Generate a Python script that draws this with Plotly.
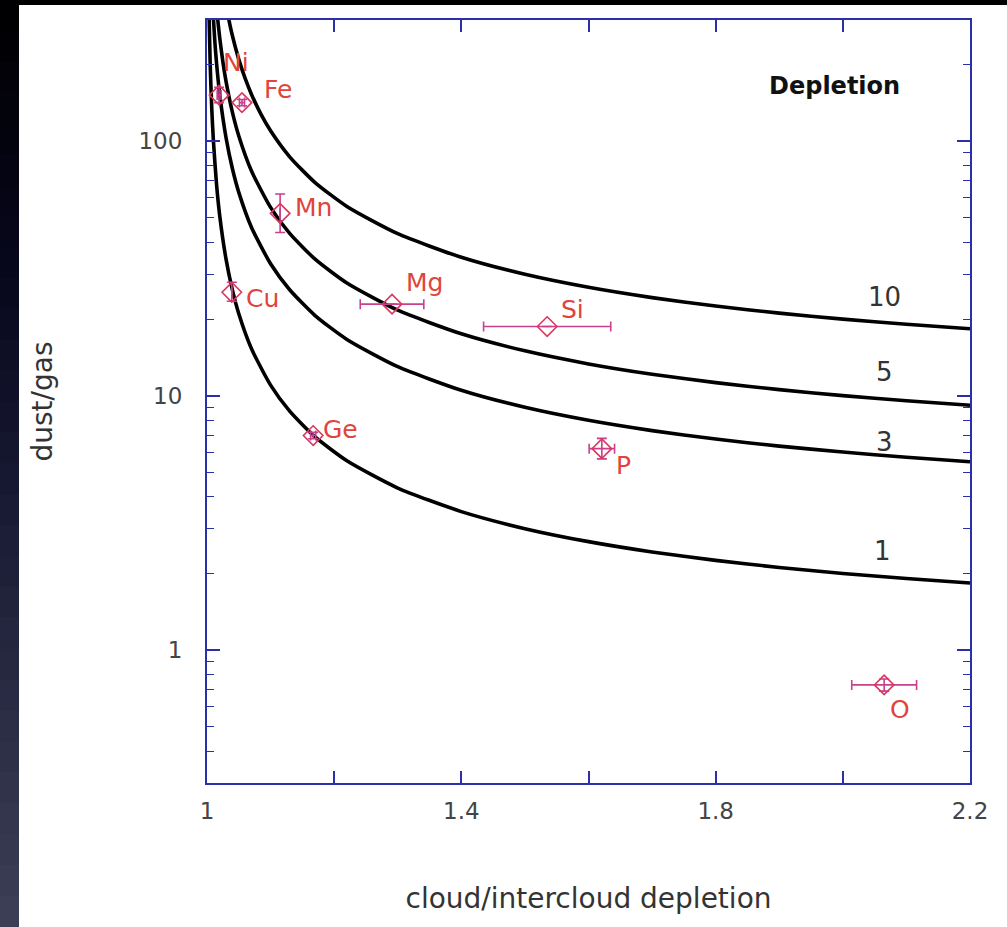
import math
import plotly.graph_objects as go

# ---- model curves: dust/gas ratio against cloud/intercloud depletion ----
depletion_levels = [1, 3, 5, 10]

curve1_x = [1.003, 1.005, 1.0075, 1.01, 1.015, 1.02, 1.03, 1.04, 1.05, 1.07, 1.1, 1.13,
            1.17, 1.22, 1.3, 1.4, 1.5, 1.6, 1.7, 1.8, 1.9, 2.0, 2.1, 2.2]
curve1_y = [334.3, 201.0, 134.3, 101.0, 67.67, 51.0, 34.33, 26.0, 21.0, 15.29, 11.0, 8.692,
            6.882, 5.545, 4.333, 3.5, 3.0, 2.667, 2.429, 2.25, 2.111, 2.0, 1.909, 1.833]

curve3_x = [1.009, 1.0125, 1.015, 1.02, 1.03, 1.04, 1.05, 1.07, 1.1, 1.13, 1.17, 1.22,
            1.3, 1.4, 1.5, 1.6, 1.7, 1.8, 1.9, 2.0, 2.1, 2.2]
curve3_y = [336.3, 243.0, 203.0, 153.0, 103.0, 78.0, 63.0, 45.86, 33.0, 26.08, 20.65, 16.64,
            13.0, 10.5, 9.0, 8.0, 7.286, 6.75, 6.333, 6.0, 5.727, 5.5]

curve5_x = [1.015, 1.0175, 1.02, 1.025, 1.03, 1.04, 1.05, 1.07, 1.1, 1.13, 1.17, 1.22,
            1.3, 1.4, 1.5, 1.6, 1.7, 1.8, 1.9, 2.0, 2.1, 2.2]
curve5_y = [338.3, 290.7, 255.0, 205.0, 171.7, 130.0, 105.0, 76.43, 55.0, 43.46, 34.41, 27.73,
            21.67, 17.5, 15.0, 13.33, 12.14, 11.25, 10.56, 10.0, 9.545, 9.167]

curve10_x = [1.03, 1.035, 1.04, 1.05, 1.06, 1.07, 1.085, 1.1, 1.13, 1.17, 1.22, 1.3,
             1.4, 1.5, 1.6, 1.7, 1.8, 1.9, 2.0, 2.1, 2.2]
curve10_y = [343.3, 295.7, 260.0, 210.0, 176.7, 152.9, 127.6, 110.0, 86.92, 68.82, 55.45, 43.33,
             35.0, 30.0, 26.67, 24.29, 22.5, 21.11, 20.0, 19.09, 18.33]

# where each curve's depletion number is printed
curve_label_x = [2.063, 2.066, 2.066, 2.066]
curve_label_y = [2.46, 6.59, 12.4, 24.4]

# ---- measured elements ----
elements = ["Ni", "Fe", "Mn", "Cu", "Mg", "Ge", "Si", "P", "O"]
cloud_ratio = [1.019, 1.055, 1.115, 1.039, 1.291, 1.167, 1.535, 1.621, 2.065]
cloud_ratio_err = [0.003, 0.004, 0.0, 0.0, 0.05, 0.004, 0.1, 0.02, 0.051]
dust_gas = [152.0, 142.0, 52.1, 25.5, 22.9, 6.97, 18.7, 6.19, 0.729]
dust_gas_err_hi = [11.0, 4.0, 10.0, 2.4, 0.0, 0.2, 0.0, 0.6, 0.04]
dust_gas_err_lo = [10.0, 4.0, 8.3, 2.0, 0.0, 0.2, 0.0, 0.55, 0.04]

# label offsets from each marker, in pixels (right, up)
label_dx = [17, 36, 33, 31, 32, 27, 25, 22, 16]
label_dy = [33, 13, 6, -6, 22, 6, 17, -17, -25]

AXIS_BLUE = "#2c30a8"
LABEL_RED = "#e0443c"
MARK_RED = "#d8385e"
BAR_MAGENTA = "#c8408e"
FONT = "DejaVu Sans"

fig = go.Figure()

curves = [(curve1_x, curve1_y), (curve3_x, curve3_y), (curve5_x, curve5_y), (curve10_x, curve10_y)]
for (cx, cy), level in zip(curves, depletion_levels):
    fig.add_trace(go.Scatter(
        x=cx, y=cy, mode="lines", name=f"Depletion {level}",
        line=dict(color="black", width=3.6, shape="spline", smoothing=0.6),
        hoverinfo="skip", showlegend=False,
    ))

fig.add_trace(go.Scatter(
    x=cloud_ratio, y=dust_gas, mode="markers", text=elements, showlegend=False,
    marker=dict(symbol="diamond-open", size=15, color=MARK_RED, line=dict(width=1.6, color=MARK_RED)),
    error_x=dict(type="data", array=cloud_ratio_err, color=BAR_MAGENTA, thickness=1.6, width=5),
    error_y=dict(type="data", array=dust_gas_err_hi, arrayminus=dust_gas_err_lo,
                 color=BAR_MAGENTA, thickness=1.6, width=5),
))

for name, xv, yv, dx, dy in zip(elements, cloud_ratio, dust_gas, label_dx, label_dy):
    fig.add_annotation(x=xv, y=math.log10(yv), xref="x", yref="y", text=name,
                       showarrow=False, xshift=dx, yshift=dy,
                       xanchor="center", yanchor="middle",
                       font=dict(family=FONT, size=25, color=LABEL_RED))

for level, lx, ly in zip(depletion_levels, curve_label_x, curve_label_y):
    fig.add_annotation(x=lx, y=math.log10(ly), xref="x", yref="y", text=str(level),
                       showarrow=False, xanchor="center", yanchor="middle",
                       font=dict(family=FONT, size=26, color="#333333"))

fig.add_annotation(x=0.823, y=0.9135, xref="paper", yref="paper", text="<b>Depletion</b>",
                   showarrow=False, xanchor="center", yanchor="middle",
                   font=dict(family=FONT, size=24, color="#111111"))

# dark slide backdrop around the white panel
W, H = 1007, 927
L, R, T, B = 207, 37, 20, 144
pw, ph = W - L - R, H - T - B


def px_x(p):
    return (p - L) / pw


def px_y(p):
    return (H - B - p) / ph


stops = [(0, (0, 0, 0)), (250, (6, 6, 26)), (500, (24, 26, 51)), (927, (60, 63, 85))]
nb = 30
for i in range(nb):
    y0p = H * i / nb
    y1p = H * (i + 1) / nb
    ym = (y0p + y1p) / 2
    for (a, ca), (b, cb) in zip(stops[:-1], stops[1:]):
        if a <= ym <= b:
            t = (ym - a) / (b - a)
            col = tuple(int(round(ca[k] + (cb[k] - ca[k]) * t)) for k in range(3))
            break
    fig.add_shape(type="rect", xref="paper", yref="paper",
                  x0=px_x(-2), x1=px_x(19), y0=px_y(y1p + 0.5), y1=px_y(y0p - 0.5),
                  fillcolor="rgb(%d,%d,%d)" % col, line=dict(width=0), layer="below")
fig.add_shape(type="rect", xref="paper", yref="paper",
              x0=px_x(-2), x1=px_x(W + 2), y0=px_y(5), y1=px_y(-2),
              fillcolor="black", line=dict(width=0), layer="below")

fig.update_layout(
    width=W, height=H,
    margin=dict(l=L, r=R, t=T, b=B, autoexpand=False),
    paper_bgcolor="white", plot_bgcolor="white",
    font=dict(family=FONT, color="#444444"),
    xaxis=dict(
        range=[1, 2.2], showgrid=False, zeroline=False,
        showline=True, linecolor=AXIS_BLUE, linewidth=2, mirror="ticks",
        ticks="inside", ticklen=12, tickwidth=1.6, tickcolor=AXIS_BLUE,
        tickmode="array",
        tickvals=[1, 1.2, 1.4, 1.6, 1.8, 2.0, 2.2],
        ticktext=["1", "", "1.4", "", "1.8", "", "2.2"],
        tickfont=dict(family=FONT, size=23, color="#444444"),
        ticklabelstandoff=6,
        title=dict(text="cloud/intercloud depletion", standoff=66,
                   font=dict(family=FONT, size=28, color="#333333")),
    ),
    yaxis=dict(
        type="log", range=[-0.523, 2.477], showgrid=False, zeroline=False,
        showline=True, linecolor=AXIS_BLUE, linewidth=2, mirror="ticks",
        ticks="inside", ticklen=13, tickwidth=1.6, tickcolor=AXIS_BLUE,
        tickmode="array", tickvals=[1, 10, 100], ticktext=["1", "10", "100"],
        tickfont=dict(family=FONT, size=23, color="#444444"),
        ticklabelstandoff=18,
        minor=dict(ticks="inside", ticklen=7, tickwidth=1.4, tickcolor=AXIS_BLUE, showgrid=False,
                   tickmode="array",
                   tickvals=[0.4, 0.5, 0.6, 0.7, 0.8, 0.9, 2, 3, 4, 5, 6, 7, 8, 9,
                             20, 30, 40, 50, 60, 70, 80, 90, 200, 300]),
        title=dict(text="dust/gas", standoff=78,
                   font=dict(family=FONT, size=28, color="#333333")),
    ),
)

fig.write_html("out.html")
